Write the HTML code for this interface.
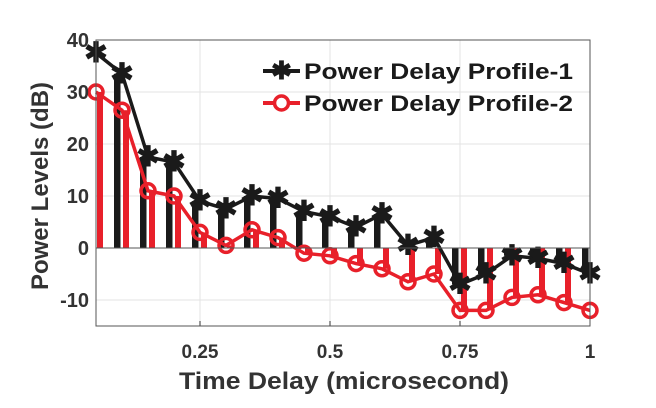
<!DOCTYPE html>
<html><head><meta charset="utf-8"><style>
body{margin:0;background:#fff;}
svg{display:block;font-family:"Liberation Sans",Arial,sans-serif;}
</style></head><body>
<svg id="chart" width="656" height="408" viewBox="0 0 656 408" xmlns="http://www.w3.org/2000/svg">
<rect width="656" height="408" fill="#fff"/>
<g id="grid"></g>
<g id="bars"></g>
<g id="lines"></g>
<g id="axes"></g>
<g id="legend">
  <line x1="263" y1="71" x2="300" y2="71" stroke="#1a1a1a" stroke-width="4"/>
  <text x="281.5" y="79" font-size="25" font-weight="bold" text-anchor="middle" fill="#1a1a1a">✱</text>
  <text x="304" y="79" font-size="22" font-weight="bold" fill="#1a1a1a" textLength="269" lengthAdjust="spacingAndGlyphs">Power Delay Profile-1</text>
  <line x1="263" y1="103" x2="300" y2="103" stroke="#e8202a" stroke-width="4"/>
  <circle cx="281.5" cy="103" r="7" fill="#fff" stroke="#e8202a" stroke-width="3.5"/>
  <text x="304" y="111" font-size="22" font-weight="bold" fill="#1a1a1a" textLength="269" lengthAdjust="spacingAndGlyphs">Power Delay Profile-2</text>
</g>
<text transform="translate(48,186) rotate(-90)" font-size="24" font-weight="bold" fill="#333" text-anchor="middle">Power Levels (dB)</text>
<text x="344" y="389" font-size="24" font-weight="bold" fill="#333" text-anchor="middle" textLength="330" lengthAdjust="spacingAndGlyphs">Time Delay (microsecond)</text>
</svg>
<script>
const delays = [0.05,0.1,0.15,0.2,0.25,0.3,0.35,0.4,0.45,0.5,0.55,0.6,0.65,0.7,0.75,0.8,0.85,0.9,0.95,1.0];
const profile1 = [37.5,33.5,17.5,16.5,9,7.5,10,9.5,7,6,4,6.5,0.5,2,-7,-5,-1.5,-2,-3,-5];
const profile2 = [30,26.5,11,10,3,0.5,3.5,2,-1,-1.5,-3,-4,-6.5,-5,-12,-12,-9.5,-9,-10.5,-12];
const xTicks = [0.25,0.5,0.75,1];
const xTickLabels = ["0.25","0.5","0.75","1"];
const yTicks = [-10,0,10,20,30,40];
const yTickLabels = ["-10","0","10","20","30","40"];

const L=96,R=590,T=40,B=326,xmin=0.05,xmax=1,ymin=-15,ymax=40;
const NS="http://www.w3.org/2000/svg";
const xs=v=>L+(v-xmin)/(xmax-xmin)*(R-L);
const ys=v=>B-(v-ymin)/(ymax-ymin)*(B-T);
function mk(tag,attrs,parent){const e=document.createElementNS(NS,tag);for(const k in attrs)e.setAttribute(k,attrs[k]);parent.appendChild(e);return e;}
const grid=document.getElementById('grid'),bars=document.getElementById('bars'),lines=document.getElementById('lines'),axes=document.getElementById('axes');

xTicks.forEach((t,i)=>{
  const g=mk('line',{x1:xs(t),x2:xs(t),y1:T,y2:B,stroke:'#e3e3e3','stroke-width':1},grid);
  
  
  const tk=mk('line',{x1:xs(t),x2:xs(t),y1:B,y2:B-5,stroke:'#333','stroke-width':1},axes);
  
  
  const tl=mk('text',{x:xs(t),y:B+32,'font-size':19,'font-weight':'bold',fill:'#333','text-anchor':'middle'},axes);
  tl.textContent=xTickLabels[i];
  
  
});
yTicks.forEach((t,i)=>{
  const g=mk('line',{x1:L,x2:R,y1:ys(t),y2:ys(t),stroke:'#e3e3e3','stroke-width':1},grid);
  
  
  const tl=mk('text',{x:L-7,y:ys(t)+7,'font-size':20,'font-weight':'bold',fill:'#333','text-anchor':'end'},axes);
  tl.textContent=yTickLabels[i];
  
  
});

const clip=mk('clipPath',{id:'pc'},document.getElementById('chart'));
mk('rect',{x:L,y:T,width:R-L,height:B-T},clip);
bars.setAttribute('clip-path','url(#pc)');
const y0=ys(0);
delays.forEach((d,i)=>{
  const b1=mk('rect',{x:xs(d)-8,y:Math.min(y0,ys(profile1[i])),width:6.5,height:Math.abs(ys(profile1[i])-y0),fill:'#1a1a1a'},bars);
  
  
  const b2=mk('rect',{x:xs(d)+1,y:Math.min(y0,ys(profile2[i])),width:6,height:Math.abs(ys(profile2[i])-y0),fill:'#e8202a'},bars);
  
  
});

const zl=mk('line',{x1:L,x2:R,y1:y0,y2:y0,stroke:'#555','stroke-width':1},axes);


const box=mk('rect',{x:L,y:T,width:R-L,height:B-T,fill:'none',stroke:'#555','stroke-width':1},axes);



const p1=mk('polyline',{points:delays.map((d,i)=>xs(d)+','+ys(profile1[i])).join(' '),fill:'none',stroke:'#1a1a1a','stroke-width':3.5},lines);


delays.forEach((d,i)=>{
  const m=mk('text',{x:xs(d),y:ys(profile1[i])+9,'font-size':28,'font-weight':'bold',fill:'#1a1a1a','text-anchor':'middle'},lines);
  m.textContent='✱';
  
  
});
const p2=mk('polyline',{points:delays.map((d,i)=>xs(d)+','+ys(profile2[i])).join(' '),fill:'none',stroke:'#e8202a','stroke-width':3.5},lines);


delays.forEach((d,i)=>{
  const c=mk('circle',{cx:xs(d),cy:ys(profile2[i]),r:7,fill:'none',stroke:'#e8202a','stroke-width':3.5},lines);
  
  
});
</script>
</body></html>
